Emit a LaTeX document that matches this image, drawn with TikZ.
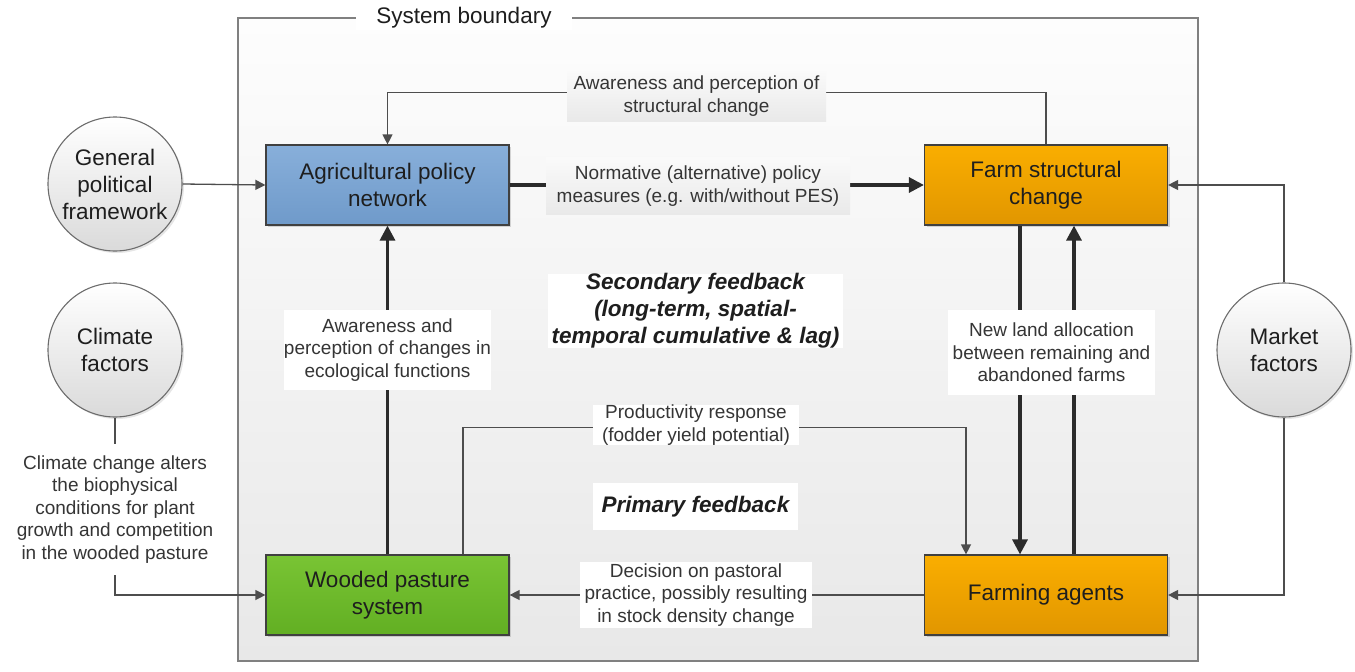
\documentclass[tikz,border=0pt]{standalone}
\usepackage{fontspec}
\setmainfont{Liberation Sans}
\usetikzlibrary{arrows.meta,shadows,calc}
\definecolor{linegray}{HTML}{4D4D4D}
\definecolor{thickgray}{HTML}{2B2B2B}
\definecolor{boxborder}{HTML}{404040}
\definecolor{txt}{HTML}{1E1E1E}
\definecolor{bluetop}{HTML}{88AFDA}
\definecolor{bluebot}{HTML}{6F9ACA}
\definecolor{orangetop}{HTML}{FAAE00}
\definecolor{orangebot}{HTML}{E19600}
\definecolor{greentop}{HTML}{79C434}
\definecolor{greenbot}{HTML}{62AF23}
\definecolor{circbot}{HTML}{DADADA}
\definecolor{bndtop}{HTML}{FDFDFD}
\definecolor{bndbot}{HTML}{E8E8E8}
\definecolor{bndline}{HTML}{808080}
\definecolor{lbltop}{HTML}{FAFAFA}
\definecolor{lblbot}{HTML}{E9E9E9}
\tikzset{
  bigtext/.style={font=\fontsize{22.5}{27}\selectfont},
  smalltext/.style={font=\fontsize{19}{22.5}\selectfont},
  mainbox/.style={rectangle, draw=boxborder, line width=1.2pt, minimum width=243pt,
     minimum height=80pt, inner sep=0pt, align=center, text=txt, bigtext,
     drop shadow={opacity=0.3, shadow xshift=2pt, shadow yshift=-2pt}},
  bluebox/.style={mainbox, top color=bluetop, bottom color=bluebot},
  orangebox/.style={mainbox, top color=orangetop, bottom color=orangebot},
  greenbox/.style={mainbox, top color=greentop, bottom color=greenbot},
  factor/.style={circle, draw=gray!85!black, line width=1.1pt, minimum size=134pt,
     inner sep=0pt, align=center, text=txt, bigtext, top color=white, bottom color=circbot,
     drop shadow={opacity=0.2, shadow xshift=2pt, shadow yshift=-2pt}},
  lbl/.style={rectangle, fill=white, inner sep=0pt, align=center, text=txt!90!white, smalltext},
  graylbl/.style={lbl, top color=lbltop, bottom color=lblbot},
  fblbl/.style={rectangle, fill=white, inner sep=0pt, align=center, text=txt,
     font=\fontsize{22.5}{27}\selectfont\bfseries\itshape},
  thinline/.style={draw=linegray, line width=1.3pt},
  thinarrow/.style={thinline, -{Triangle[length=10pt,width=10pt]}},
  thickline/.style={draw=thickgray, line width=3.2pt},
  thickarrow/.style={thickline, -{Triangle[length=15pt,width=15pt]}}
}
\begin{document}
\begin{tikzpicture}[x=1pt,y=-1pt]
\useasboundingbox (0,0) rectangle (1355,672);
% system boundary
\draw[bndline, line width=1.8pt, top color=bndtop, bottom color=bndbot] (238,18) rectangle (1198,661);
\node[fill=white, inner xsep=20pt, inner ysep=2pt, bigtext, text=txt] (sb) at (464,18) {System boundary};

% main boxes
\node[bluebox] (agri) at (387.5,185) {Agricultural policy\\network};
\node[orangebox] (farm) at (1046,185) {Farm structural\\change};
\node[greenbox] (wood) at (387.5,595) {Wooded pasture\\system};
\node[orangebox] (agents) at (1046,595) {Farming agents};

% factors
\node[factor] (gpf) at (115,184) {General\\political\\framework};
\node[factor] (clim) at (115,350) {Climate\\factors};
\node[factor] (mkt) at (1284,350) {Market\\factors};
\node[smalltext, align=center, text=txt!90!white, inner sep=0pt, minimum height=131pt] (climtxt) at (115,509.5)
  {Climate change alters\\the biophysical\\conditions for plant\\growth and competition\\in the wooded pasture};

% connectors
\draw[thinarrow] (gpf.east) -- (agri.west);
\draw[thinline] (clim.south) -- (climtxt.north);
\draw[thinarrow] (climtxt.south) |- (wood.west);
\draw[thinarrow] (farm.north) -- ++(0,-52) -| (agri.north);
\draw[thickarrow] (agri.east) -- (farm.west);
\draw[thickarrow] (wood.north) -- (agri.south);
\draw[thinarrow] ([xshift=75.5pt]wood.north) -- ++(0,-127) -| ([xshift=-80pt]agents.north);
\draw[thinarrow] (agents.west) -- (wood.east);
\draw[thickarrow] ([xshift=-26pt]farm.south) -- ([xshift=-26pt]agents.north);
\draw[thickarrow] ([xshift=28pt]agents.north) -- ([xshift=28pt]farm.south);
\draw[thinarrow] (mkt.north) |- (farm.east);
\draw[thinarrow] (mkt.south) |- (agents.east);

% labels
\node[graylbl, minimum width=259pt, minimum height=50pt] (l1) at (696.5,96) {Awareness and perception of\\structural change};
\node[graylbl, minimum width=304pt, minimum height=57pt] (l2) at (698,186) {Normative (alternative) policy\\measures (e.g. with/without PES)};
\node[lbl, minimum width=207pt, minimum height=80pt] (l3) at (387.5,350) {Awareness and\\perception of changes in\\ecological functions};
\node[fblbl, minimum width=295pt, minimum height=72pt] (sec) at (695.5,311) {Secondary feedback\\(long-term, spatial-\\temporal cumulative \& lag)};
\node[lbl, minimum width=206pt, minimum height=40pt] (l4) at (696,425) {Productivity response\\(fodder yield potential)};
\node[fblbl, minimum width=205pt, minimum height=47pt] (prim) at (695.5,506.5) {Primary feedback};
\node[lbl, minimum width=232pt, minimum height=66pt] (l5) at (696,595) {Decision on pastoral\\practice, possibly resulting\\in stock density change};
\node[lbl, minimum width=207pt, minimum height=85pt] (l6) at (1051.5,352.5) {New land allocation\\between remaining and\\abandoned farms};
\end{tikzpicture}
\end{document}
